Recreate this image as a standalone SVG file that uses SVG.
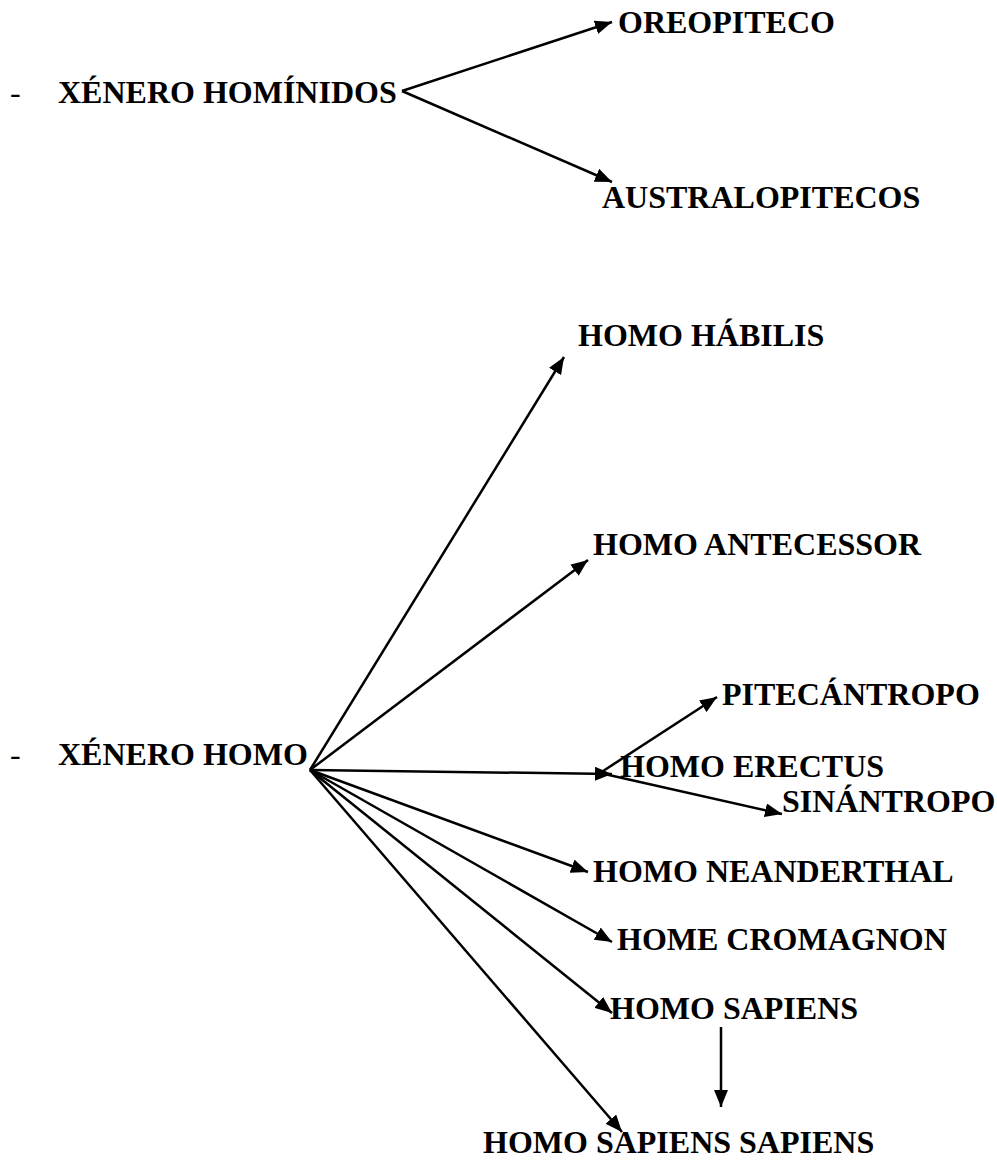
<svg xmlns="http://www.w3.org/2000/svg" width="997" height="1160" viewBox="0 0 997 1160">
<style>
text{font-family:"Liberation Serif","Times New Roman",serif;font-weight:bold;font-size:32px;fill:#000}
.dash{font-weight:normal}
.c line{stroke:#000;stroke-width:2.5;fill:none;marker-end:url(#ah)}
</style>
<defs>
<marker id="ah" markerUnits="userSpaceOnUse" markerWidth="17" markerHeight="14" refX="17" refY="7" orient="auto">
<path d="M0,0 L17,7 L0,14 z" fill="#000"/>
</marker>
</defs>
<rect width="997" height="1160" fill="#fff"/>
<g id="n-hominidos"><text class="dash" x="10" y="103">-</text><text x="58" y="103">XÉNERO HOMÍNIDOS</text></g>
<g id="n-oreopiteco"><text x="618" y="33">OREOPITECO</text></g>
<g id="n-australopitecos"><text x="602" y="208">AUSTRALOPITECOS</text></g>
<g id="n-homo"><text class="dash" x="10" y="765">-</text><text x="58" y="765">XÉNERO HOMO</text></g>
<g id="n-habilis"><text x="578" y="346">HOMO HÁBILIS</text></g>
<g id="n-antecessor"><text x="593" y="555">HOMO ANTECESSOR</text></g>
<g id="n-pitecantropo"><text x="722" y="705">PITECÁNTROPO</text></g>
<g id="n-erectus"><text x="620" y="777">HOMO ERECTUS</text></g>
<g id="n-sinantropo"><text x="782" y="812">SINÁNTROPO</text></g>
<g id="n-neanderthal"><text x="593" y="882">HOMO NEANDERTHAL</text></g>
<g id="n-cromagnon"><text x="617" y="950">HOME CROMAGNON</text></g>
<g id="n-sapiens"><text x="610" y="1019">HOMO SAPIENS</text></g>
<g id="n-sapiens-sapiens"><text x="483" y="1153">HOMO SAPIENS SAPIENS</text></g>
<g id="connectors" class="c">
<line x1="402" y1="91" x2="612" y2="22"/>
<line x1="402" y1="91" x2="612" y2="182"/>
<line x1="310" y1="770" x2="564" y2="357"/>
<line x1="310" y1="770" x2="588" y2="560"/>
<line x1="310" y1="770" x2="612" y2="774"/>
<line x1="600" y1="773" x2="717" y2="697"/>
<line x1="600" y1="773" x2="782" y2="814"/>
<line x1="310" y1="770" x2="588" y2="872"/>
<line x1="310" y1="770" x2="612" y2="942"/>
<line x1="310" y1="770" x2="612" y2="1013"/>
<line x1="310" y1="770" x2="622" y2="1132"/>
<line x1="721" y1="1027" x2="721" y2="1107"/>
</g>
</svg>
